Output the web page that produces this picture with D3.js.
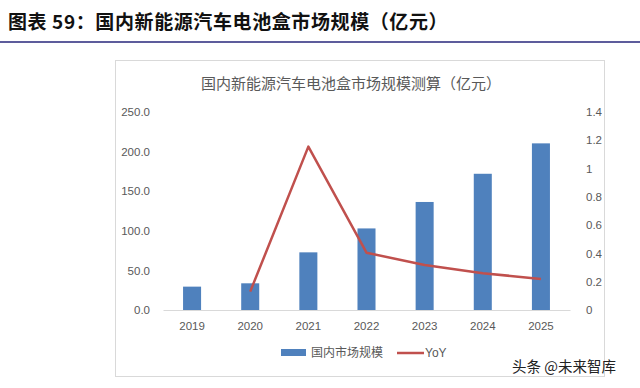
<!DOCTYPE html>
<html>
<head>
<meta charset="utf-8">
<script src="https://d3js.org/d3.v7.min.js"></script>
<style>
  body { margin: 0; background: #fff; }
  svg { display: block; font-family: "Noto Sans CJK SC", "Noto Sans", sans-serif; }
  .tick text { fill: #595959; font-size: 11.5px; font-family: "Liberation Sans", "Noto Sans", sans-serif; }
</style>
</head>
<body>
<svg width="640" height="388"></svg>
<script>
const years = ["2019", "2020", "2021", "2022", "2023", "2024", "2025"];
const market = [29.5, 33.7, 72.8, 103.0, 136.4, 172.0, 210.4];
const yoy = [null, 0.13, 1.155, 0.405, 0.318, 0.26, 0.22];
const leftTicks = [0, 50, 100, 150, 200, 250];
const rightTicks = [0, 0.2, 0.4, 0.6, 0.8, 1, 1.2, 1.4];

const svg = d3.select("svg");
const plot = { left: 163, right: 570, top: 112, bottom: 310 };

// page header
svg.append("text").attr("x", 8).attr("y", 29)
  .attr("font-size", 19).attr("font-weight", "bold").attr("fill", "#111")
  .attr("letter-spacing", 0.6)
  .text("图表 59：国内新能源汽车电池盒市场规模（亿元）");
svg.append("rect").attr("x", 0).attr("y", 41).attr("width", 640).attr("height", 2).attr("fill", "#5d5c9c");

// chart frame
svg.append("rect").attr("x", 115.5).attr("y", 60.5).attr("width", 489).attr("height", 316)
  .attr("fill", "#fff").attr("stroke", "#d9d9d9");

svg.append("text").attr("x", 351).attr("y", 89).attr("text-anchor", "middle")
  .attr("font-size", 15).attr("fill", "#595959")
  .text("国内新能源汽车电池盒市场规模测算（亿元）");

const x = d3.scaleBand().domain(years).range([plot.left, plot.right]).paddingInner(0.69).paddingOuter(0.345);
const yL = d3.scaleLinear().domain([0, 250]).range([plot.bottom, plot.top]);
const yR = d3.scaleLinear().domain([0, 1.4]).range([plot.bottom, plot.top]);

// bars
svg.selectAll("rect.bar").data(years).enter().append("rect")
  .attr("class", "bar")
  .attr("x", d => x(d))
  .attr("width", x.bandwidth())
  .attr("y", (d, i) => yL(market[i]))
  .attr("height", (d, i) => yL(0) - yL(market[i]))
  .attr("fill", "#4f81bd");

// axes
const xAxis = svg.append("g").attr("transform", `translate(0,${plot.bottom})`)
  .call(d3.axisBottom(x).tickSize(0).tickPadding(12));
xAxis.select(".domain").attr("stroke", "#d9d9d9");

const lAxis = svg.append("g").attr("transform", `translate(${plot.left - 10},0)`)
  .call(d3.axisLeft(yL).tickValues(leftTicks).tickSize(0).tickFormat(d3.format(".1f")));
lAxis.select(".domain").remove();

const rAxis = svg.append("g").attr("transform", `translate(${plot.right + 13},0)`)
  .call(d3.axisRight(yR).tickValues(rightTicks).tickSize(0).tickFormat(d => String(+d.toFixed(1))));
rAxis.select(".domain").remove();

// YoY line
const pts = years.map((d, i) => [d, yoy[i]]).filter(p => p[1] != null);
svg.append("path").datum(pts)
  .attr("fill", "none").attr("stroke", "#c0504d").attr("stroke-width", 2.5)
  .attr("stroke-linejoin", "round")
  .attr("d", d3.line().x(p => x(p[0]) + x.bandwidth() / 2).y(p => yR(p[1])));

// legend
const lg = svg.append("g");
lg.append("rect").attr("x", 281).attr("y", 349).attr("width", 25).attr("height", 7).attr("fill", "#4f81bd");
lg.append("text").attr("x", 311).attr("y", 357).attr("font-size", 12).attr("fill", "#595959").text("国内市场规模");
lg.append("line").attr("x1", 397).attr("x2", 424).attr("y1", 353).attr("y2", 353)
  .attr("stroke", "#c0504d").attr("stroke-width", 2.5);
lg.append("text").attr("x", 425).attr("y", 357).attr("font-size", 12).attr("fill", "#595959")
  .attr("font-family", "Liberation Sans, sans-serif").text("YoY");

// watermark
svg.append("text").attr("x", 512).attr("y", 372).attr("font-size", 14.5).attr("fill", "#222")
  .text("头条 @未来智库");
</script>
</body>
</html>
